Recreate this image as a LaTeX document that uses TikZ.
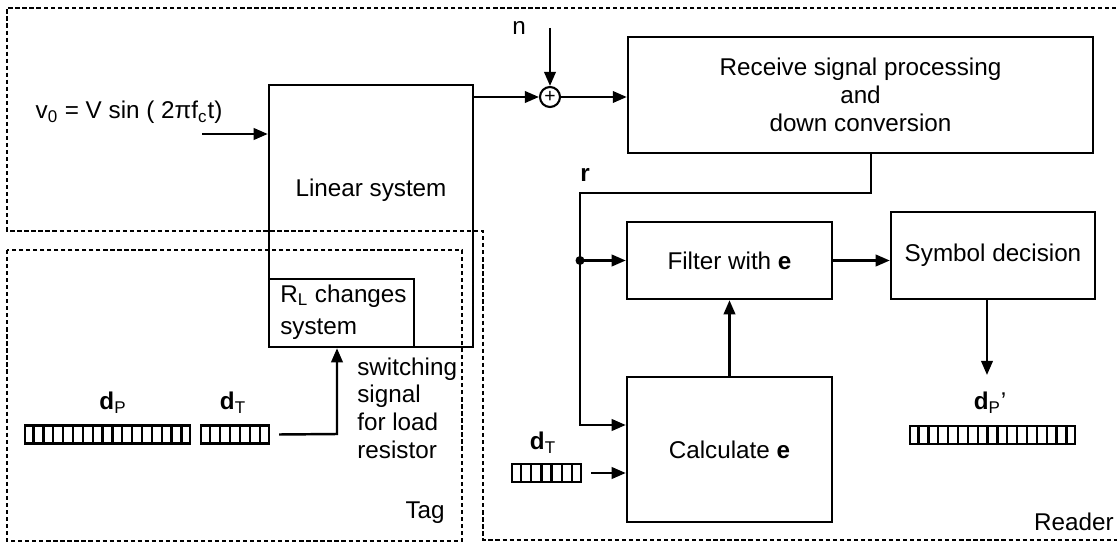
\documentclass[tikz,border=0pt]{standalone}
\usepackage{fontspec}
\setmainfont{Liberation Sans}
\usetikzlibrary{calc}
\usetikzlibrary{arrows.meta}
\usetikzlibrary{positioning}
\tikzset{
    sigarrow/.style={
        line width=1.4pt,
        black,
        ->,
        >={Triangle[length=8pt, width=6.5pt]}
    },
    % 方框
    blockbox/.style={draw, line width=1.4pt, inner sep=0pt},
    % 虚线区域
    zonebox/.style={line width=1.3pt, dash pattern=on 2.4pt off 1.6pt},
    bitreg/.style={draw, line width=1.4pt, minimum height=0.36cm, inner sep=0pt}
}
\newcommand{\regcells}[2]{%
  \pgfmathtruncatemacro\lastcell{#2-1}%
  \foreach \k in {1,...,\lastcell}
    \draw[line width=1.3pt] ($(#1.south west)!{\k/#2}!(#1.south east)$) -- ($(#1.north west)!{\k/#2}!(#1.north east)$);%
}

\begin{document}
\begin{tikzpicture}[x=0.02cm, y=-0.02cm, font=\fontsize{13.8}{15.8}\selectfont]
	\useasboundingbox (0,0) rectangle (1117,544);
	
	% 虚线区域
	\draw[zonebox] (1130,8) -- (7,8) -- (7,231) -- (483,231) -- (483,540) -- (1130,540);
	\draw[zonebox] (7,250) rectangle (462,541);
	
	% 方框
	\node[blockbox, minimum width=4.08cm, minimum height=5.24cm] (lin) at (371,216) {};
	\node (linlbl) at (371,190) {Linear system};
	\node[blockbox, minimum width=2.9cm, minimum height=1.36cm] (rl) at (341.5,313) {};
	\node[align=left, anchor=west, inner sep=0pt] (rllbl) at (280,312) {R\textsubscript{L} changes\\[2.5pt]system};
	\node[blockbox, minimum width=9.3cm, minimum height=2.32cm, align=center] (rx) at (860.5,95) {Receive signal processing\\and\\down conversion};
	\node[blockbox, minimum width=4.1cm, minimum height=1.54cm] (filt) at (729.5,260.5) {Filter with \textbf{e}};
	\node[blockbox, minimum width=4.08cm, minimum height=1.74cm] (sym) at (993,255.5) {Symbol decision};
	\node[blockbox, minimum width=4.1cm, minimum height=2.9cm] (calc) at (729.5,449.5) {Calculate \textbf{e}};
	
	% 加法器
	\node[draw, circle, line width=1.2pt, minimum size=0.4cm, inner sep=0pt, font=\fontsize{11}{11}\selectfont] (sum) at (550,97) {+};
	
	% 寄存器
	\node[bitreg, minimum width=3.3cm] (dpt) at (107.5,434.5) {};
	\node[bitreg, minimum width=1.36cm] (dtt) at (235,434.5) {};
	\node[bitreg, minimum width=3.3cm] (dpr) at (992.5,435) {};
	\node[bitreg, minimum width=1.38cm] (dtr) at (546.5,473) {};
	\regcells{dpt}{17}
	\regcells{dtt}{7}
	\regcells{dpr}{17}
	\regcells{dtr}{7}
	
	% 文字标注
	\node (dptlbl) at (113,403) {\textbf{d}\textsubscript{P}};
	\node (dttlbl) at (233,403) {\textbf{d}\textsubscript{T}};
	\node (dtrlbl) at (543,443) {\textbf{d}\textsubscript{T}};
	\node (dprlbl) at (990,403) {\textbf{d}\textsubscript{P}'};
	\node (vlbl) at (129,112) {v\textsubscript{0} = V sin ( 2πf\textsubscript{c}t)};
	\node (nlbl) at (519,28) {n};
	\node (rlbl) at (585,175) {\textbf{r}};
	\node[align=left, anchor=west, inner sep=0pt] (swlbl) at (357,408) {switching\\signal\\for load\\resistor};
	\node[anchor=east, inner sep=0pt] (taglbl) at (445,513) {Tag};
	\node[anchor=east, inner sep=0pt] (rdlbl) at (1114,522) {Reader};
	
	\coordinate (vin) at (202,134);
	\coordinate (nin) at (550,28);
	\coordinate (rturn) at (871,193);
	\coordinate (rdown) at (580,425);
	\coordinate (swin) at (337,434);
	\coordinate (dpout) at (987,375);
	
	% 箭头
	\draw[sigarrow] (vin) -- (vin -| lin.west);
	\draw[sigarrow] (lin.east |- sum) -- (sum);
	\draw[sigarrow] (nin) -- (sum);
	\draw[sigarrow] (sum) -- (sum -| rx.west);
	\draw[sigarrow] (rx.south -| rturn) -- (rturn) -| (rdown) -- (rdown -| calc.west);
	\fill (rdown |- filt) circle (0.09cm);
	\draw[sigarrow] (rdown |- filt) -- (filt);
	\draw[sigarrow] (calc.north) -- (filt.south);
	\draw[sigarrow] (filt) -- (filt -| sym.west);
	\draw[sigarrow] (sym.south -| dpout) -- (dpout);
	\draw[sigarrow] ([xshift=0.18cm]dtt.east) -- (swin) -- (swin |- rl.south);
	\draw[sigarrow] ([xshift=0.18cm]dtr.east) -- (dtr.east -| calc.west);
\end{tikzpicture}
\end{document}
